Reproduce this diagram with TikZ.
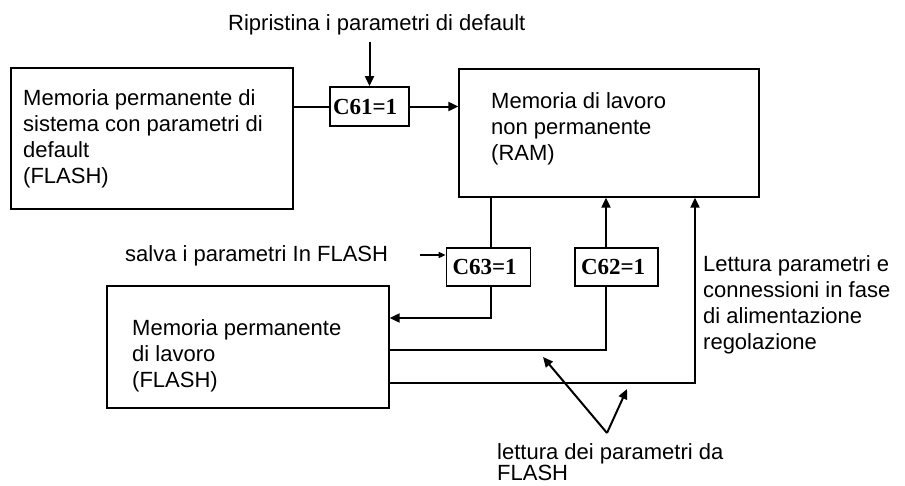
\documentclass[tikz,border=0pt]{standalone}
\usepackage{fontspec}
\setmainfont{Liberation Sans}
\newfontfamily\serifb{Liberation Serif}
\usetikzlibrary{arrows.meta,calc}
\begin{document}
\begin{tikzpicture}[x=1pt,y=-1pt,
  box/.style={draw,line width=1.3pt,inner sep=0,rectangle},
  cbox/.style={draw,line width=1.8pt,rectangle,minimum height=38pt,inner ysep=0pt,
    align=left,font=\serifb\bfseries\fontsize{23}{26}\selectfont},
  txt/.style={font=\fontsize{22}{26}\selectfont,align=left,inner sep=0,anchor=north west},
  line/.style={line width=2pt},
  conn/.style={line width=2pt,-{Triangle[length=10pt,width=9pt]}},
  sconn/.style={line width=2pt,-{Triangle[length=7pt,width=6pt]}}]
\useasboundingbox (0,0) rectangle (905,485);

% boxes
\node[box,minimum width=282pt,minimum height=141pt] (A) at (152,138.5) {};
\node[box,minimum width=300pt,minimum height=128pt] (R) at (609,133) {};
\node[box,minimum width=282pt,minimum height=122pt] (F) at (248,347) {};
\node[cbox,text width=73pt,inner xsep=3pt,minimum height=39pt] (C61) at (369.5,106.5) {C61=1};
\node[cbox,text width=72pt,inner xsep=6pt] (C63) at (488.5,267) {C63=1};
\node[cbox,text width=71pt,inner xsep=6pt] (C62) at (616.5,267) {C62=1};

% texts
\node[txt] (tA) at (23,89) {Memoria permanente di\\sistema con parametri di\\default\\(FLASH)};
\node[txt] (tR) at (491,92) {Memoria di lavoro\\non permanente\\(RAM)};
\node[txt] (tF) at (132,319) {Memoria permanente\\di lavoro\\(FLASH)};
\node[txt] (tL) at (703,255) {Lettura parametri e\\connessioni in fase\\di alimentazione\\regolazione};
\node[txt,font=\fontsize{22}{21.5}\selectfont] (tD) at (497,443) {lettura dei parametri da\\FLASH};
\node[txt] (tS) at (125,245) {salva i parametri In FLASH};
\node[txt] (tT) at (228,14) {Ripristina i parametri di default};

% helper coordinates
\coordinate (ta) at (369.5,42);
\coordinate (sa) at (420,255);
\coordinate (x63) at (491,0);
\coordinate (x62) at (606,0);
\coordinate (x3) at (695,0);
\coordinate (y1) at (0,318);
\coordinate (y2) at (0,350);
\coordinate (y3) at (0,383);
\coordinate (conv) at (607,433);
\coordinate (t1) at (543,357);
\coordinate (t2) at (627,389);

% connectors
\draw[conn] (ta) -- (C61.north);
\draw[line] (A.east |- C61.west) -- (C61.west);
\draw[conn] (C61.east) -- (R.west |- C61.east);
\draw[sconn] (sa) -- (C63.west |- sa);
\draw[line] (R.south -| x63) -- (C63.north -| x63);
\draw[conn] (C63.south -| x63) |- (F.east |- y1);
\draw[line] (F.east |- y2) -| (C62.south -| x62);
\draw[conn] (C62.north -| x62) -- (R.south -| x62);
\draw[conn] (F.east |- y3) -| (R.south -| x3);
\draw[conn] (conv) -- (t1);
\draw[conn] (conv) -- (t2);
\end{tikzpicture}
\end{document}
